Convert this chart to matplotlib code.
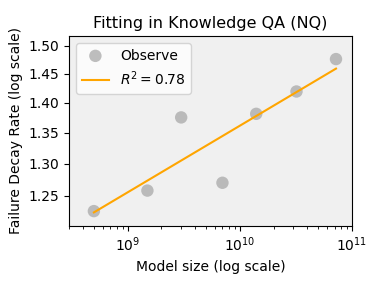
import numpy as np
import matplotlib
matplotlib.use("Agg")
import matplotlib.pyplot as plt
from matplotlib.ticker import FixedLocator, FixedFormatter, NullLocator

model_sizes = [0.5e9, 1.5e9, 3e9, 7e9, 14e9, 32e9, 72e9]
decay_rates = [1.227, 1.258, 1.375, 1.270, 1.381, 1.419, 1.476]
y_ticks = [1.25, 1.30, 1.35, 1.40, 1.45, 1.50]
y_tick_labels = ["1.25", "1.30", "1.35", "1.40", "1.45", "1.50"]

x = np.array(model_sizes)
y = np.array(decay_rates)
coef = np.polyfit(np.log10(x), np.log10(y), 1)
xf = np.array([x.min(), x.max()])
yf = 10 ** np.polyval(coef, np.log10(xf))

fig = plt.figure(figsize=(3.82, 2.87), dpi=100)
ax = fig.add_axes([69/382, 1-226/287, (352-69)/382, (226-36)/287])
ax.set_facecolor("#f0f0f0")
ax.scatter(x, y, s=80, color="#a9a9a9", alpha=0.75, edgecolors="none", label="Observe", zorder=3)
ax.plot(xf, yf, color="orange", lw=1.5, label=r"$R^2 = 0.78$", zorder=4)
ax.set_xscale("log")
ax.set_yscale("log")
ax.set_xlim(3e8, 1e11)
ax.set_ylim(1.205, 1.518)
ax.yaxis.set_major_locator(FixedLocator(y_ticks))
ax.yaxis.set_major_formatter(FixedFormatter(y_tick_labels))
ax.yaxis.set_minor_locator(NullLocator())
ax.set_xlabel("Model size (log scale)", fontsize=10)
ax.set_ylabel("Failure Decay Rate (log scale)", fontsize=10)
ax.set_title("Fitting in Knowledge QA (NQ)", fontsize=11.5)
ax.tick_params(labelsize=10)
ax.legend(loc="upper left", fontsize=10)
fig.savefig("out.png", dpi=100)
